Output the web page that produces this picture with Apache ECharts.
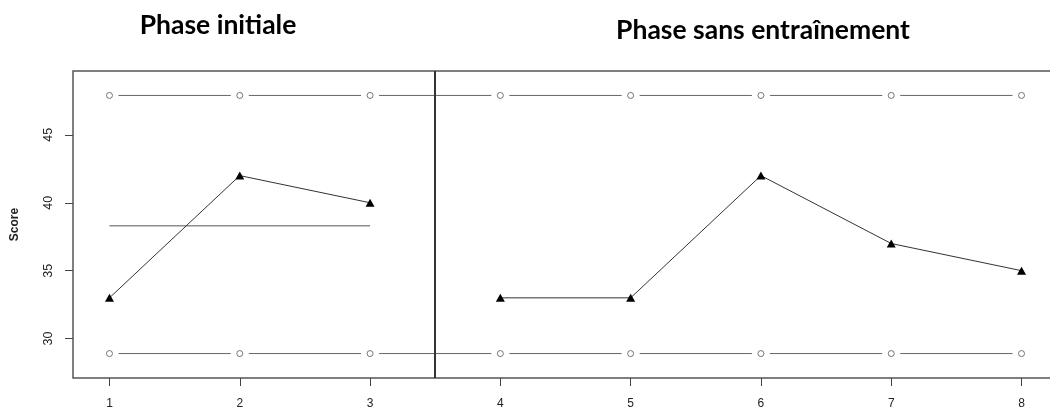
<!DOCTYPE html>
<html>
<head>
<meta charset="utf-8">
<script src="https://cdn.jsdelivr.net/npm/echarts@6/dist/echarts.min.js"></script>
<style>
  html, body { margin: 0; padding: 0; background: #fff; }
  #chart { width: 1050px; height: 410px; }
</style>
</head>
<body>
<div id="chart"></div>
<script>
// ---- data ----
const xTicks = [1, 2, 3, 4, 5, 6, 7, 8];
const yTicks = [30, 35, 40, 45];
const phaseTitles = ['Phase initiale', 'Phase sans entraînement'];
const phase1X = [1, 2, 3];
const phase1Scores = [33, 42, 40];
const phase2X = [4, 5, 6, 7, 8];
const phase2Scores = [33, 33, 42, 37, 35];
const limitX = [1, 2, 3, 4, 5, 6, 7, 8];
const upperLimit = [47.9, 47.9, 47.9, 47.9, 47.9, 47.9, 47.9, 47.9];
const lowerLimit = [28.9, 28.9, 28.9, 28.9, 28.9, 28.9, 28.9, 28.9];
const meanX = [1, 3];
const meanPhase1 = [38.3, 38.3];
const phaseBoundary = [3.5];

const pairs = (xs, ys) => xs.map((x, i) => [x, ys[i]]);

const chart = echarts.init(document.getElementById('chart'), null, { renderer: 'canvas' });

const titleFont = { fontFamily: 'Lato', fontWeight: 'bold', fontSize: 26.5, color: '#000' };

const gapLine = (data) => ({
  type: 'line',
  data: data,
  symbol: 'circle',
  symbolSize: 18,
  itemStyle: { color: '#fff', borderWidth: 0 },
  lineStyle: { color: '#666', width: 1 },
  z: 2,
  silent: true,
  animation: false
});
const openCircles = (data) => ({
  type: 'scatter',
  data: data,
  symbol: 'circle',
  symbolSize: 6,
  itemStyle: { color: '#fff', borderColor: '#555', borderWidth: 1 },
  z: 3,
  silent: true,
  animation: false
});
const scoreLine = (data) => ({
  type: 'line',
  data: data,
  symbol: 'triangle',
  symbolSize: [9, 8],
  itemStyle: { color: '#000' },
  lineStyle: { color: '#333', width: 1 },
  z: 4,
  animation: false
});

chart.setOption({
  animation: false,
  backgroundColor: '#fff',
  title: [
    { text: phaseTitles[0], left: 218, top: 12, textAlign: 'center', padding: 0, textStyle: titleFont },
    { text: phaseTitles[1], left: 763, top: 17, textAlign: 'center', padding: 0, textStyle: titleFont }
  ],
  grid: {
    left: 73, top: 71, width: 985, height: 307,
    outerBoundsMode: 'none',
    containLabel: false,
    show: true, borderColor: '#555', borderWidth: 1.5, backgroundColor: 'transparent'
  },
  xAxis: {
    type: 'value',
    min: 0.72, max: 8.28,
    axisLine: { show: false },
    splitLine: { show: false },
    axisTick: { show: true, length: 8, lineStyle: { color: '#444', width: 1 }, customValues: xTicks },
    axisLabel: { customValues: xTicks, margin: 20, color: '#222', fontFamily: 'Liberation Sans', fontSize: 12 }
  },
  yAxis: {
    type: 'value',
    min: 27.1, max: 49.7,
    name: 'Score',
    nameLocation: 'middle',
    nameRotate: 90,
    nameGap: 52,
    nameTextStyle: { fontFamily: 'Liberation Sans', fontWeight: 'bold', fontSize: 12, color: '#222' },
    axisLine: { show: false },
    splitLine: { show: false },
    axisTick: { show: true, length: 8, lineStyle: { color: '#444', width: 1 }, customValues: yTicks },
    axisLabel: { customValues: yTicks, rotate: 90, margin: 18, color: '#222', fontFamily: 'Liberation Sans', fontSize: 12.5 }
  },
  series: [
    Object.assign(gapLine(pairs(limitX, upperLimit)), {
      markLine: {
        silent: true,
        symbol: 'none',
        label: { show: false },
        lineStyle: { color: '#333', width: 2, type: 'solid' },
        data: phaseBoundary.map(v => ({ xAxis: v }))
      }
    }),
    gapLine(pairs(limitX, lowerLimit)),
    openCircles(pairs(limitX, upperLimit)),
    openCircles(pairs(limitX, lowerLimit)),
    {
      type: 'line',
      data: pairs(meanX, meanPhase1),
      symbol: 'none',
      lineStyle: { color: '#555', width: 1 },
      z: 2,
      animation: false
    },
    scoreLine(pairs(phase1X, phase1Scores)),
    scoreLine(pairs(phase2X, phase2Scores))
  ]
});
</script>
</body>
</html>
